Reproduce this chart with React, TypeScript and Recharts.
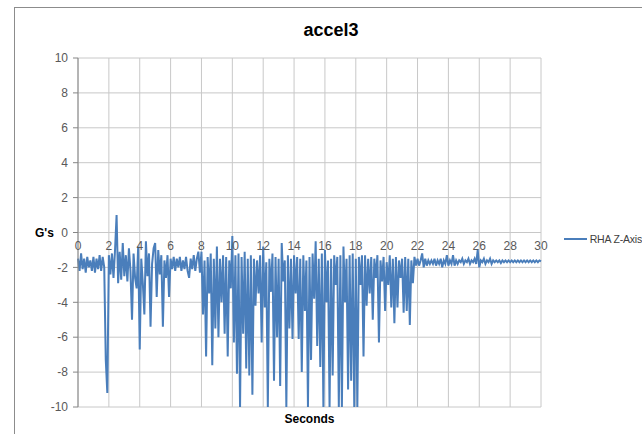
import { LineChart, Line, XAxis, YAxis, CartesianGrid, Legend } from 'recharts';

// accelerometer samples, 0.1 s apart
const SAMPLE_STEP = 0.1;

const startQuiet = [
  -1.5, -2.2, -1.2, -2.1, -1.5, -2.3, -1.4, -2.0, -1.6, -2.2,
  -1.4, -2.3, -1.5, -2.1, -1.3, -2.2, -1.4, -2.0, -7.3, -9.2,
];
const firstBumps = [
  -1.3, -2.4, -1.2, -2.6, -1.0, 1.0, -2.9, -1.1, -2.7, -0.6,
  -2.5, -1.3, -2.8, -0.9, -2.2, -5.0, -1.2, -2.6, -3.2, -0.8,
  -6.7, -1.5, -2.9, -4.7, -0.5, -2.5, -1.2, -5.4, -1.8, -0.9,
  -0.6, -3.7, -1.0, -2.4, -1.3, -5.4, -1.6, -2.6, -1.3, -3.7,
];
const calmMiddle = [
  -1.5, -2.1, -1.4, -2.2, -1.5, -2.0, -1.4, -2.2, -1.6, -2.1,
  -1.4, -2.2, -2.6, -1.5, -2.1, -1.3, -2.2, -1.5, -1.1, -2.3,
];
const roughRide = [
  -1.1, -4.7, -1.6, -7.1, -1.4, -3.5, -1.2, -7.6, -1.5, -5.5,
  -0.8, -6.0, -1.5, -4.0, -1.3, -5.8, -1.4, -7.1, -1.6, -3.2,
  -0.2, -6.3, -1.3, -8.1, -1.2, -10.0, -1.4, -5.8, -1.1, -7.8,
  -1.5, -8.2, -1.3, -9.3, -1.5, -4.2, -1.6, -3.5, -1.3, -6.3,
  -0.8, -4.3, -1.7, -10.0, -1.5, -3.4, -1.2, -8.5, -1.4, -6.0,
  -1.5, -8.8, -0.6, -2.8, -1.6, -10.0, -1.3, -5.5, -1.5, -6.1,
  -1.3, -3.5, -1.4, -6.1, -1.5, -8.0, -1.3, -4.5, -1.6, -10.0,
  -1.4, -7.3, -1.2, -3.8, -0.5, -6.5, -1.5, -7.7, -1.2, -10.0,
  -1.0, -4.0, -1.6, -10.0, -1.5, -8.2, -1.3, -3.0, -1.4, -10.0,
  -1.3, -10.0, -0.8, -4.0, -1.5, -9.0, -1.3, -8.5, -1.2, -10.0,
  -1.5, -10.0, -1.4, -3.0, -1.3, -7.1, -1.3, -4.2, -1.5, -3.5,
  -1.4, -5.0, -1.5, -2.6, -1.3, -6.3, -1.6, -2.8, -1.4, -4.5,
  -1.7, -3.0, -1.3, -4.3, -1.5, -5.2, -1.4, -4.3, -1.6, -2.6,
  -1.5, -4.6, -1.4, -4.5, -1.5, -5.3, -1.6, -2.9, -1.4, -1.9,
];
const settled = [
  -1.5, -1.9, -1.6, -1.2, -2.0, -1.5, -1.9, -1.6, -1.8, -1.6,
  -1.8, -1.5, -1.9, -1.6, -1.8, -1.5, -2.0, -1.6, -1.8, -1.3,
  -1.9, -1.6, -1.8, -1.3, -1.9, -1.6, -1.8, -1.6, -1.7, -1.5,
  -1.8, -1.6, -1.7, -1.5, -1.8, -1.6, -1.7, -1.5, -1.8, -1.0,
  -2.0, -1.6, -1.7, -1.5, -1.8, -1.6, -1.7, -1.5, -1.8, -1.6,
  -1.7, -1.6, -1.7, -1.6, -1.75, -1.6, -1.7, -1.6, -1.7, -1.6,
  -1.7, -1.6, -1.7, -1.6, -1.7, -1.6, -1.7, -1.6, -1.7, -1.6,
  -1.7, -1.6, -1.7, -1.6, -1.7, -1.6, -1.7, -1.6, -1.7, -1.6, -1.65,
];

const xTicks = [0, 2, 4, 6, 8, 10, 12, 14, 16, 18, 20, 22, 24, 26, 28, 30];
const yTicks = [-10, -8, -6, -4, -2, 0, 2, 4, 6, 8, 10];

const values = [...startQuiet, ...firstBumps, ...calmMiddle, ...roughRide, ...settled];
const data = values.map((g, i) => ({ t: +(i * SAMPLE_STEP).toFixed(1), g }));

const FONT = "'Liberation Sans', Arial, sans-serif";

// Excel puts the category labels along the zero line, not at the bottom
const ZeroLineTick = (props: any) => {
  const { x, y, payload } = props;
  return (
    <text x={x} y={y - 174.5 + 17} textAnchor="middle" fontSize={12} fill="#595959" fontFamily={FONT}>
      {payload.value}
    </text>
  );
};

const LegendBox = () => (
  <div style={{ display: 'flex', alignItems: 'center', fontFamily: FONT, fontSize: 10.5, letterSpacing: -0.2, color: '#404040', whiteSpace: 'nowrap' }}>
    <span style={{ display: 'inline-block', width: 24, height: 2, background: '#4a7ebb', marginRight: 3 }} />
    RHA Z-Axis
  </div>
);

export default function App() {
  return (
    <div style={{ position: 'absolute', left: 0, top: 0, width: 642, height: 434, overflow: 'hidden', background: '#fff' }}>
      <div style={{ position: 'absolute', left: 14, top: 7, width: 700, height: 500, borderLeft: '1px solid #8c8c8c', borderTop: '1px solid #8c8c8c' }} />
      <div style={{ position: 'absolute', left: 0, top: 20, width: 662, textAlign: 'center', fontFamily: FONT, fontWeight: 'bold', fontSize: 18, color: '#000' }}>
        accel3
      </div>
      <div style={{ position: 'absolute', left: 0, top: 0 }}>
        <LineChart width={642} height={434} data={data} margin={{ top: 58, right: 101, bottom: 0, left: 18 }}>
          <CartesianGrid stroke="#c8c8c8" strokeWidth={1} />
          <XAxis
            dataKey="t"
            type="number"
            domain={[0, 30]}
            ticks={xTicks}
            interval={0}
            axisLine={false}
            tickLine={false}
            tickSize={0}
            tickMargin={0}
            height={27}
            tick={<ZeroLineTick />}
            label={{ value: 'Seconds', position: 'insideBottom', offset: 11, fontSize: 12, fontWeight: 'bold', fill: '#000', fontFamily: FONT }}
          />
          <YAxis
            type="number"
            domain={[-10, 10]}
            ticks={yTicks}
            interval={0}
            width={60}
            axisLine={{ stroke: '#868686' }}
            tickLine={{ stroke: '#868686' }}
            tickSize={5}
            tickMargin={5}
            tick={{ fontSize: 12, fill: '#595959', fontFamily: FONT }}
            label={{ value: "G's", position: 'insideLeft', offset: 17, angle: 0, fontSize: 12, fontWeight: 'bold', fill: '#000', fontFamily: FONT }}
          />
          <Legend
            layout="vertical"
            align="center"
            verticalAlign="middle"
            content={<LegendBox />}
            wrapperStyle={{ left: 564, top: 233, width: 78 }}
          />
          <Line
            type="linear"
            dataKey="g"
            name="RHA Z-Axis"
            stroke="#4a7ebb"
            strokeWidth={2}
            dot={false}
            isAnimationActive={false}
          />
        </LineChart>
      </div>
    </div>
  );
}
